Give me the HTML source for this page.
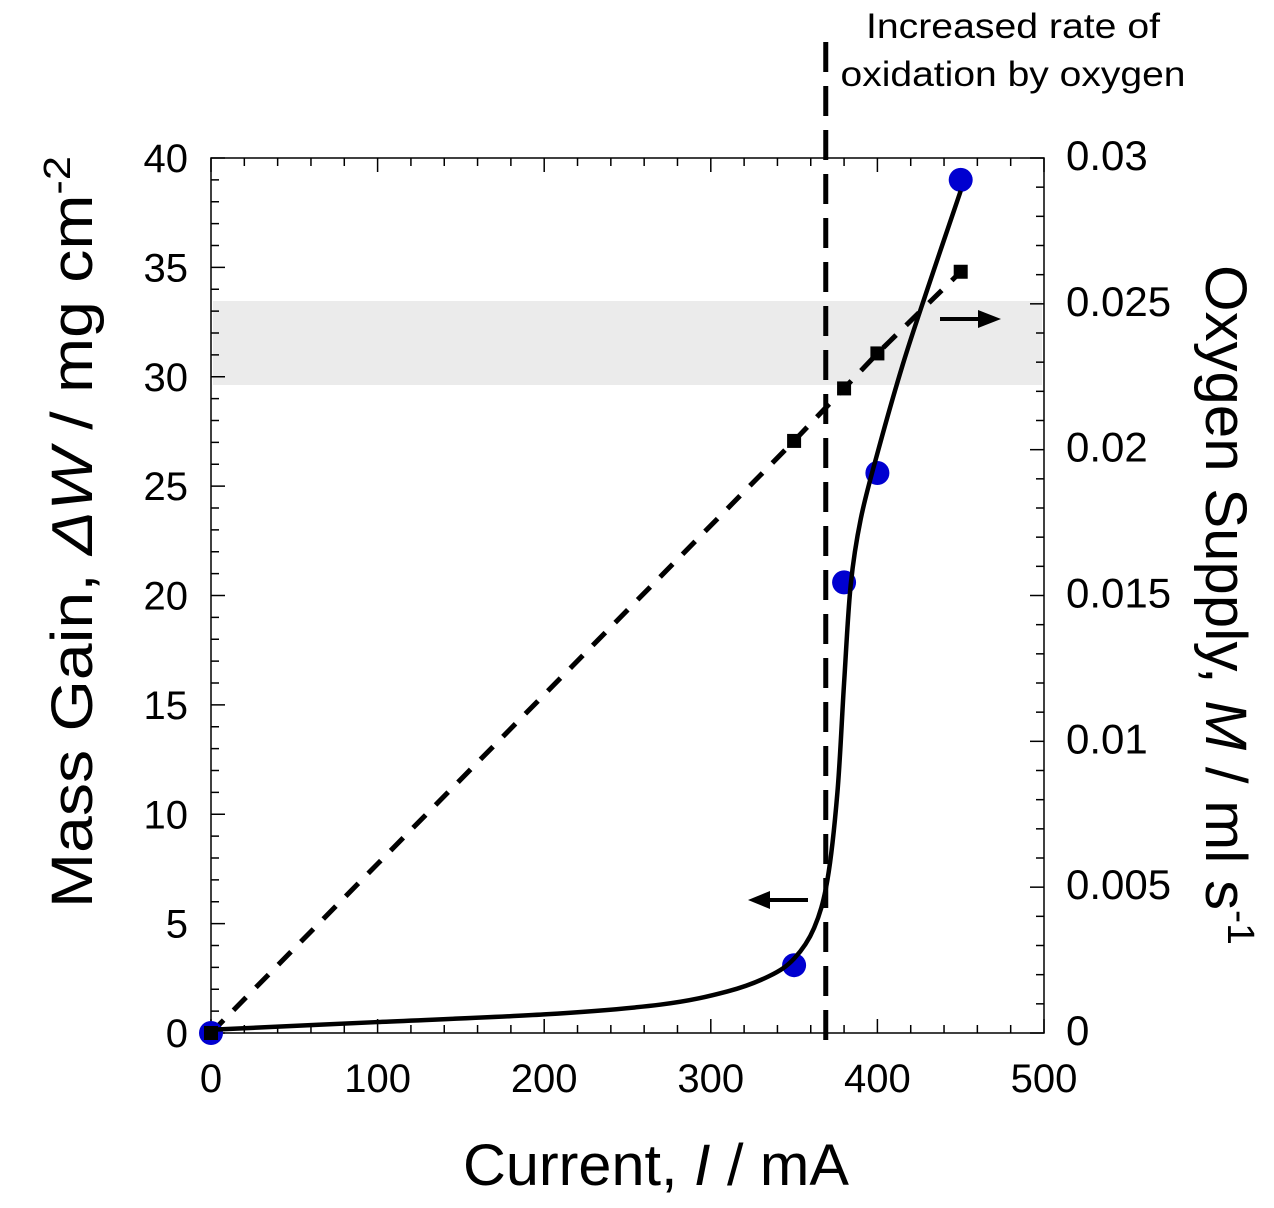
<!DOCTYPE html>
<html><head><meta charset="utf-8"><style>
html,body{margin:0;padding:0;background:#fff;}
svg{display:block;font-family:"Liberation Sans",Arial,sans-serif;}
</style></head><body>
<svg id="chart" width="1274" height="1208" viewBox="0 0 1274 1208" xmlns="http://www.w3.org/2000/svg">
<rect x="0" y="0" width="1274" height="1208" fill="#fff"/>
<rect x="213" y="301" width="829" height="84" fill="#ebebeb"/>
<g id="axes"></g>
<g id="marks"></g>
<text x="656" y="1185" font-size="58" text-anchor="middle" textLength="386" lengthAdjust="spacingAndGlyphs">Current, <tspan font-style="italic">I</tspan> / mA</text>
<text transform="translate(92,532) rotate(-90)" font-size="58" text-anchor="middle" textLength="752" lengthAdjust="spacingAndGlyphs">Mass Gain, <tspan font-style="italic">ΔW</tspan> / mg cm<tspan font-size="38" dy="-22">-2</tspan></text>
<text transform="translate(1206,605) rotate(90)" font-size="58" text-anchor="middle" textLength="680" lengthAdjust="spacingAndGlyphs">Oxygen Supply, <tspan font-style="italic">M</tspan> / ml s<tspan font-size="38" dy="-22">-1</tspan></text>
<text font-size="35" text-anchor="middle"><tspan x="1013" y="38" textLength="294" lengthAdjust="spacingAndGlyphs">Increased rate of</tspan><tspan x="1013" y="86" textLength="345" lengthAdjust="spacingAndGlyphs">oxidation by oxygen</tspan></text>
<g><line x1="808" y1="900" x2="768" y2="900" stroke="#000" stroke-width="4"/><polygon points="748,900 770,891 770,909" fill="#000"/></g>
<g><line x1="940" y1="319" x2="982" y2="319" stroke="#000" stroke-width="4"/><polygon points="1001,319 978,310 978,328" fill="#000"/></g>
</svg>
<script>
const xTicks=[0,100,200,300,400,500];
const leftTicks=[0,5,10,15,20,25,30,35,40];
const rightTicks=[0,0.005,0.01,0.015,0.02,0.025,0.03];
const rightLabels=["0","0.005","0.01","0.015","0.02","0.025","0.03"];
const circleX=[0,350,380,400,450];
const circleY=[0,3.1,20.6,25.6,39];
const squareX=[0,350,380,400,450];
const squareY=[0,0.0203,0.0221,0.0233,0.0261];
const curveX=[0,100,200,270,310,335,350,362,370,376,380,384,390,400,415,430,450];
const curveY=[0.15,0.5,0.85,1.3,1.9,2.6,3.4,4.8,7.0,11,16,20.5,23.5,26.5,30.5,34,38.5];
const markerLine=369;

const X0=211,X1=1044,Y0=1033,Y1=158;
const sx=v=>X0+(v/500)*(X1-X0);
const syL=v=>Y0-(v/40)*(Y0-Y1);
const syR=v=>Y0-(v/0.03)*(Y0-Y1);
const NS="http://www.w3.org/2000/svg";
function mk(tag,attrs,parent){const e=document.createElementNS(NS,tag);for(const k in attrs)e.setAttribute(k,attrs[k]);parent.appendChild(e);return e;}
const axes=document.getElementById('axes'),marks=document.getElementById('marks');
const frame=mk('rect',{x:X0,y:Y1,width:X1-X0,height:Y0-Y1,fill:'none',stroke:'#000','stroke-width':1.5},axes);


for(let v=0;v<=500;v+=20){const x=sx(v);const L=v%100===0?14:8;
mk('line',{x1:x,y1:Y0,x2:x,y2:Y0-L,stroke:'#000','stroke-width':1.5},axes);
mk('line',{x1:x,y1:Y1,x2:x,y2:Y1+L,stroke:'#000','stroke-width':1.5},axes);}
for(let v=0;v<=40;v+=1){const y=syL(v);const L=v%5===0?14:8;mk('line',{x1:X0,y1:y,x2:X0+L,y2:y,stroke:'#000','stroke-width':1.5},axes);}
for(let i=0;i<=30;i++){const y=syR(i*0.001);const L=i%5===0?14:8;mk('line',{x1:X1,y1:y,x2:X1-L,y2:y,stroke:'#000','stroke-width':1.5},axes);}
xTicks.forEach(v=>{const t=mk('text',{x:sx(v),y:1092,'font-size':40,'text-anchor':'middle'},axes);t.textContent=v;

});
leftTicks.forEach(v=>{const t=mk('text',{x:188,y:syL(v)+14,'font-size':40,'text-anchor':'end'},axes);t.textContent=v;

});
rightTicks.forEach((v,i)=>{const t=mk('text',{x:1066,y:syR(v)+12,'font-size':42},axes);t.textContent=rightLabels[i];

});
const vl=mk('line',{x1:sx(markerLine),y1:42,x2:sx(markerLine),y2:1042,stroke:'#000','stroke-width':5,'stroke-dasharray':'30 14'},marks);


let d='';squareX.forEach((v,i)=>{d+=(i?'L':'M')+sx(v)+','+syR(squareY[i]);});
const dl=mk('path',{d:d,fill:'none',stroke:'#000','stroke-width':5,'stroke-dasharray':'18 14'},marks);


const pts=curveX.map((v,i)=>[sx(v),syL(curveY[i])]);
let c='M'+pts[0][0]+','+pts[0][1];
for(let i=0;i<pts.length-1;i++){const p0=pts[Math.max(0,i-1)],p1=pts[i],p2=pts[i+1],p3=pts[Math.min(pts.length-1,i+2)];
c+=` C${p1[0]+(p2[0]-p0[0])/6},${p1[1]+(p2[1]-p0[1])/6} ${p2[0]-(p3[0]-p1[0])/6},${p2[1]-(p3[1]-p1[1])/6} ${p2[0]},${p2[1]}`;}
circleX.forEach((v,i)=>{const e=mk('circle',{cx:sx(v),cy:syL(circleY[i]),r:12,fill:'#0000d0'},marks);

});
const cl=mk('path',{d:c,fill:'none',stroke:'#000','stroke-width':4.5},marks);


squareX.forEach((v,i)=>{const e=mk('rect',{x:sx(v)-7,y:syR(squareY[i])-7,width:14,height:14,fill:'#000'},marks);

});
</script>
</body></html>
